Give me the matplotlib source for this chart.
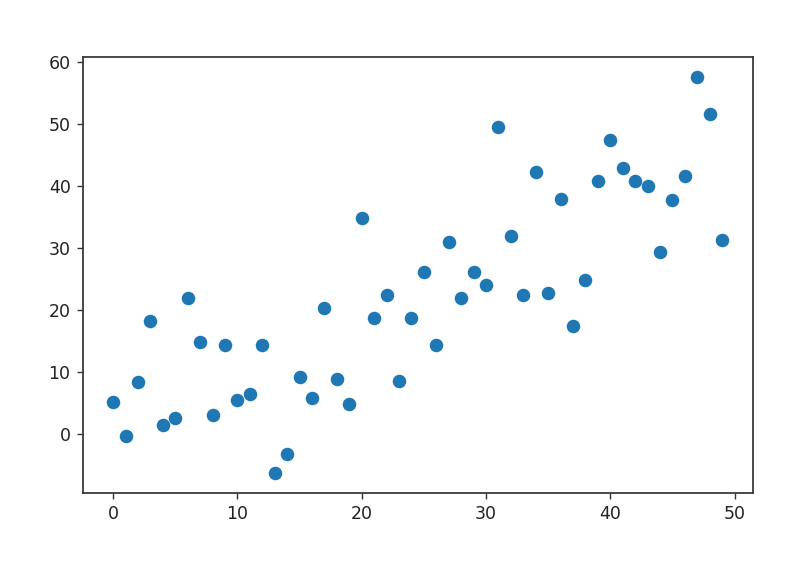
import matplotlib
matplotlib.use("Agg")
import matplotlib.pyplot as plt

x_values = list(range(50))
y_values = [5.1, -0.4, 8.3, 18.3, 1.5, 2.5, 21.9, 14.8, 3.1, 14.4,
            5.4, 6.4, 14.4, -6.3, -3.3, 9.2, 5.8, 20.3, 8.9, 4.8,
            34.8, 18.7, 22.5, 8.6, 18.7, 26.1, 14.4, 30.9, 21.9, 26.1,
            24.1, 49.6, 31.9, 22.5, 42.2, 22.8, 38.0, 17.4, 24.8, 40.9,
            47.4, 42.9, 40.9, 40.0, 29.3, 37.7, 41.6, 57.7, 51.6, 31.3]

dpi = 125
fig = plt.figure(figsize=(788 / dpi, 568 / dpi), dpi=dpi)
ax = fig.add_axes([0.105, 0.1326, 0.850, 0.7676])
ax.scatter(x_values, y_values, s=46)
for sp in ax.spines.values():
    sp.set_color("#333333")
    sp.set_linewidth(1.0)
ax.tick_params(colors="#333333", labelcolor="#222222")
ax.set_xticks([0, 10, 20, 30, 40, 50])
ax.set_yticks([0, 10, 20, 30, 40, 50, 60])
fig.savefig("out.png", dpi=dpi)
